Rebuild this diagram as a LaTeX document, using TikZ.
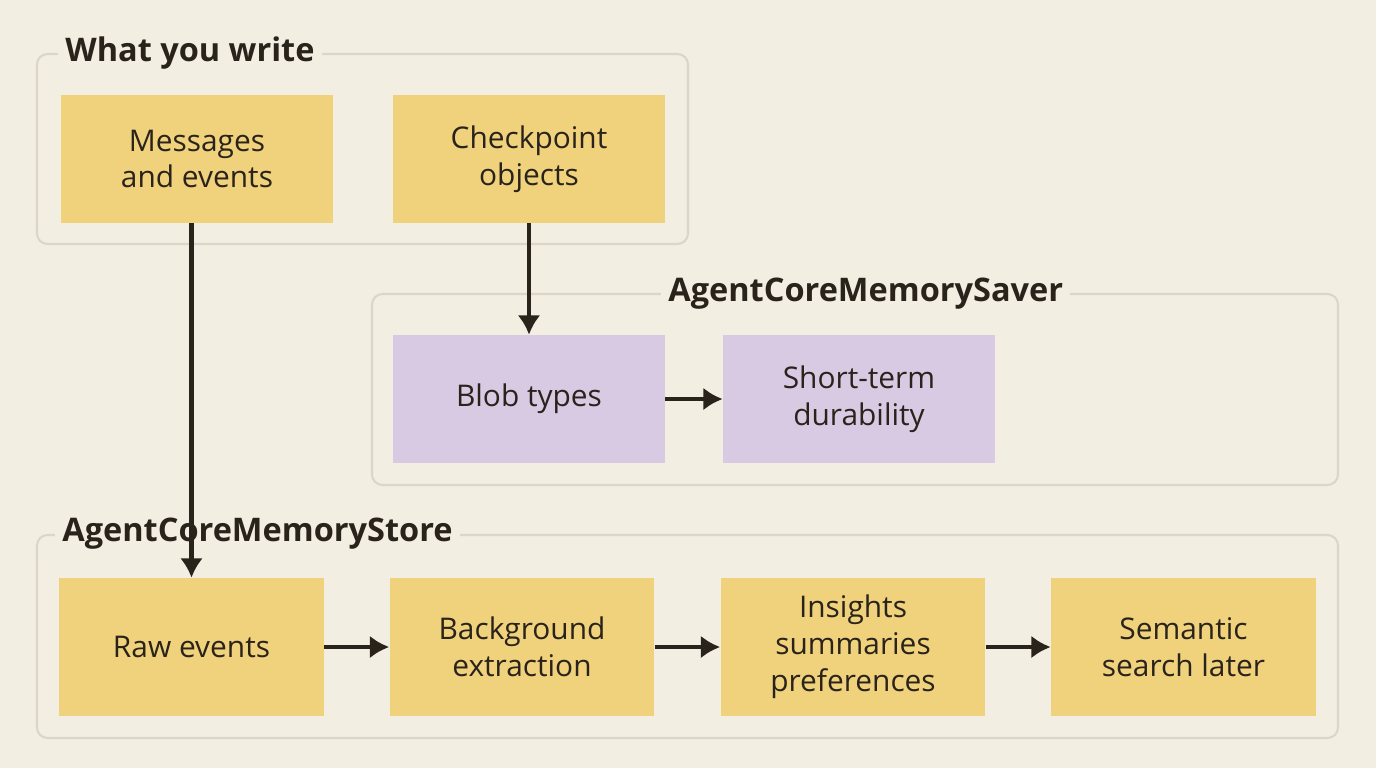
\documentclass[tikz,border=0pt]{standalone}
\usepackage{fontspec}
\setmainfont{Open Sans}
\usetikzlibrary{positioning,arrows.meta}
\definecolor{bgcol}{HTML}{F3EEE2}
\definecolor{boxyellow}{HTML}{EFD27B}
\definecolor{boxpurple}{HTML}{D9CAE4}
\definecolor{framecol}{HTML}{DCD6C8}
\definecolor{inkcol}{HTML}{2A231C}
\tikzset{
  stepbox/.style={fill=boxyellow, text=inkcol, align=center, font=\fontsize{17}{21}\selectfont,
                  minimum width=5.3cm, minimum height=2.56cm, inner sep=0pt},
  saverbox/.style={stepbox, fill=boxpurple},
  groupframe/.style={draw=framecol, line width=1.2pt, rounded corners=6pt},
  grouptitle/.style={fill=bgcol, text=inkcol, font=\fontsize{18.5}{22}\selectfont\bfseries, inner sep=4pt},
  flow/.style={draw=inkcol, line width=2.6pt, -{Latex[length=11pt,width=13pt]}}
}
\begin{document}
\begin{tikzpicture}[x=0.02cm, y=-0.02cm]

% Background
\fill[bgcol] (0,0) rectangle (1376,768);
\useasboundingbox (0,0) rectangle (1376,768);

% ===========================
% Frames
% ===========================
\draw[groupframe] (37,54) rectangle (688,244);
\draw[groupframe] (372,294) rectangle (1338,485);
\draw[groupframe] (37,535) rectangle (1338,738);

\node[grouptitle, anchor=west] (writeT) at (58,53) {What you write};
\node[grouptitle, anchor=west] (saverT) at (661,294) {AgentCoreMemorySaver};
\node[grouptitle, anchor=west] (storeT) at (55,534) {AgentCoreMemoryStore};

% ===========================
% Boxes
% ===========================
\node[stepbox, minimum width=5.44cm] (msg) at (197,159) {Messages\\and events};
\node[stepbox, minimum width=5.44cm] (ckpt) at (529,159) {Checkpoint\\objects};

\node[saverbox, minimum width=5.44cm] (blob) at (529,399) {Blob types};
\node[saverbox, minimum width=5.44cm] (short) at (859,399) {Short-term\\durability};

\node[stepbox, minimum height=2.76cm] (raw) at (191.5,647) {Raw events};
\node[stepbox, minimum height=2.76cm] (bg) at (522,647) {Background\\extraction};
\node[stepbox, minimum height=2.76cm] (ins) at (853,647) {Insights\\summaries\\preferences};
\node[stepbox, minimum height=2.76cm] (sem) at (1183.5,647) {Semantic\\search later};

% ===========================
% Connectors
% ===========================
\draw[flow] (msg.south -| raw.north) -- (raw.north);
\draw[flow] (ckpt) -- (blob);
\draw[flow] (blob) -- (short);
\draw[flow] (raw) -- (bg);
\draw[flow] (bg) -- (ins);
\draw[flow] (ins) -- (sem);

\end{tikzpicture}
\end{document}
